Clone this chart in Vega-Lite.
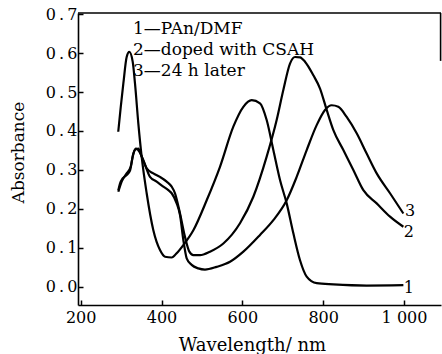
{
  "$schema": "https://vega.github.io/schema/vega-lite/v6.json",
  "width": 363,
  "height": 292,
  "autosize": "none",
  "padding": {"left": 78, "top": 13, "right": 1, "bottom": 49},
  "background": "white",
  "config": {
    "view": {"stroke": null},
    "font": "DejaVu Serif",
    "axis": {"grid": false, "domainColor": "black", "domainWidth": 1.6, "tickColor": "black", "tickWidth": 1.5, "labelColor": "black", "titleColor": "black", "labelFont": "DejaVu Serif", "titleFont": "DejaVu Serif", "titleFontWeight": "normal"}
  },
  "encoding": {
    "x": {"field": "wl", "type": "quantitative", "scale": {"domain": [193.4, 1091.5], "nice": false, "zero": false},
      "axis": {"title": "Wavelength/ nm", "values": [200, 400, 600, 800, 1000], "tickSize": -5, "labelPadding": 9, "labelFontSize": 16, "labelExpr": "datum.value == 1000 ? '1 000' : format(datum.value, 'd')", "titleFontSize": 18, "titleX": 174, "titleY": 45, "titleBaseline": "alphabetic", "titleAlign": "center"}},
    "y": {"field": "abs", "type": "quantitative", "scale": {"domain": [-0.047, 0.703], "nice": false, "zero": false},
      "axis": {"title": "Absorbance", "values": [0, 0.1, 0.2, 0.3, 0.4, 0.5, 0.6, 0.7], "tickSize": -5, "labelPadding": 6, "labelFontSize": 16, "labelExpr": "replace(format(datum.value, '.1f'), '.', '\u2009.\u2009')", "titleFontSize": 17, "titleX": -60, "titleY": 139, "titleAngle": -90, "titleAlign": "center", "titleBaseline": "middle"}}
  },
  "layer": [
    {
      "data": {"values": [
        {"series": "1", "wl": 293, "abs": 0.398},
        {"series": "1", "wl": 299, "abs": 0.46},
        {"series": "1", "wl": 305.6, "abs": 0.522},
        {"series": "1", "wl": 313.8, "abs": 0.59},
        {"series": "1", "wl": 320.4, "abs": 0.603},
        {"series": "1", "wl": 328.7, "abs": 0.578},
        {"series": "1", "wl": 334.4, "abs": 0.522},
        {"series": "1", "wl": 342.7, "abs": 0.419},
        {"series": "1", "wl": 350.9, "abs": 0.334},
        {"series": "1", "wl": 363.3, "abs": 0.24},
        {"series": "1", "wl": 379.8, "abs": 0.145},
        {"series": "1", "wl": 396.3, "abs": 0.094},
        {"series": "1", "wl": 408.7, "abs": 0.077},
        {"series": "1", "wl": 425.2, "abs": 0.075},
        {"series": "1", "wl": 437.5, "abs": 0.086},
        {"series": "1", "wl": 454, "abs": 0.107},
        {"series": "1", "wl": 478.8, "abs": 0.145},
        {"series": "1", "wl": 511.8, "abs": 0.222},
        {"series": "1", "wl": 544.7, "abs": 0.308},
        {"series": "1", "wl": 577.7, "abs": 0.411},
        {"series": "1", "wl": 602.5, "abs": 0.462},
        {"series": "1", "wl": 623.1, "abs": 0.479},
        {"series": "1", "wl": 643.7, "abs": 0.471},
        {"series": "1", "wl": 660.2, "abs": 0.428},
        {"series": "1", "wl": 676.7, "abs": 0.351},
        {"series": "1", "wl": 693.2, "abs": 0.274},
        {"series": "1", "wl": 709.7, "abs": 0.214},
        {"series": "1", "wl": 726.2, "abs": 0.137},
        {"series": "1", "wl": 742.7, "abs": 0.068},
        {"series": "1", "wl": 759.2, "abs": 0.026},
        {"series": "1", "wl": 783.9, "abs": 0.009},
        {"series": "1", "wl": 825.2, "abs": 0.006},
        {"series": "1", "wl": 907.6, "abs": 0.003},
        {"series": "1", "wl": 998.4, "abs": 0.004},
        {"series": "2", "wl": 293.2, "abs": 0.248},
        {"series": "2", "wl": 297.3, "abs": 0.265},
        {"series": "2", "wl": 303.9, "abs": 0.278},
        {"series": "2", "wl": 313.8, "abs": 0.287},
        {"series": "2", "wl": 322.1, "abs": 0.298},
        {"series": "2", "wl": 328.7, "abs": 0.334},
        {"series": "2", "wl": 334.4, "abs": 0.351},
        {"series": "2", "wl": 342.7, "abs": 0.355},
        {"series": "2", "wl": 350.9, "abs": 0.334},
        {"series": "2", "wl": 363.3, "abs": 0.304},
        {"series": "2", "wl": 379.8, "abs": 0.291},
        {"series": "2", "wl": 396.3, "abs": 0.282},
        {"series": "2", "wl": 412.8, "abs": 0.27},
        {"series": "2", "wl": 425.2, "abs": 0.257},
        {"series": "2", "wl": 433.4, "abs": 0.24},
        {"series": "2", "wl": 445.8, "abs": 0.188},
        {"series": "2", "wl": 458.1, "abs": 0.128},
        {"series": "2", "wl": 468.9, "abs": 0.09},
        {"series": "2", "wl": 478.8, "abs": 0.081},
        {"series": "2", "wl": 495.3, "abs": 0.081},
        {"series": "2", "wl": 520, "abs": 0.09},
        {"series": "2", "wl": 553, "abs": 0.111},
        {"series": "2", "wl": 594.2, "abs": 0.163},
        {"series": "2", "wl": 627.2, "abs": 0.231},
        {"series": "2", "wl": 660.2, "abs": 0.334},
        {"series": "2", "wl": 684.9, "abs": 0.428},
        {"series": "2", "wl": 701.4, "abs": 0.505},
        {"series": "2", "wl": 717.9, "abs": 0.573},
        {"series": "2", "wl": 730.3, "abs": 0.59},
        {"series": "2", "wl": 742.7, "abs": 0.589},
        {"series": "2", "wl": 755, "abs": 0.578},
        {"series": "2", "wl": 775.7, "abs": 0.543},
        {"series": "2", "wl": 792.2, "abs": 0.509},
        {"series": "2", "wl": 808.7, "abs": 0.454},
        {"series": "2", "wl": 825.2, "abs": 0.402},
        {"series": "2", "wl": 849.9, "abs": 0.351},
        {"series": "2", "wl": 874.6, "abs": 0.3},
        {"series": "2", "wl": 899.4, "abs": 0.248},
        {"series": "2", "wl": 932.4, "abs": 0.214},
        {"series": "2", "wl": 965.4, "abs": 0.18},
        {"series": "2", "wl": 998.4, "abs": 0.154},
        {"series": "3", "wl": 293.2, "abs": 0.244},
        {"series": "3", "wl": 301.4, "abs": 0.27},
        {"series": "3", "wl": 313.8, "abs": 0.291},
        {"series": "3", "wl": 323.7, "abs": 0.308},
        {"series": "3", "wl": 330.3, "abs": 0.342},
        {"series": "3", "wl": 336.9, "abs": 0.355},
        {"series": "3", "wl": 345.2, "abs": 0.347},
        {"series": "3", "wl": 355.1, "abs": 0.325},
        {"series": "3", "wl": 371.5, "abs": 0.282},
        {"series": "3", "wl": 388, "abs": 0.27},
        {"series": "3", "wl": 404.5, "abs": 0.257},
        {"series": "3", "wl": 416.9, "abs": 0.248},
        {"series": "3", "wl": 425.2, "abs": 0.24},
        {"series": "3", "wl": 437.5, "abs": 0.214},
        {"series": "3", "wl": 445.8, "abs": 0.184},
        {"series": "3", "wl": 454, "abs": 0.12},
        {"series": "3", "wl": 462.3, "abs": 0.073},
        {"series": "3", "wl": 474.6, "abs": 0.056},
        {"series": "3", "wl": 491.1, "abs": 0.047},
        {"series": "3", "wl": 507.6, "abs": 0.044},
        {"series": "3", "wl": 536.5, "abs": 0.051},
        {"series": "3", "wl": 569.5, "abs": 0.064},
        {"series": "3", "wl": 602.5, "abs": 0.09},
        {"series": "3", "wl": 643.7, "abs": 0.133},
        {"series": "3", "wl": 676.7, "abs": 0.171},
        {"series": "3", "wl": 709.7, "abs": 0.222},
        {"series": "3", "wl": 734.4, "abs": 0.282},
        {"series": "3", "wl": 759.2, "abs": 0.351},
        {"series": "3", "wl": 783.9, "abs": 0.415},
        {"series": "3", "wl": 804.5, "abs": 0.454},
        {"series": "3", "wl": 821, "abs": 0.466},
        {"series": "3", "wl": 837.5, "abs": 0.462},
        {"series": "3", "wl": 858.1, "abs": 0.436},
        {"series": "3", "wl": 882.9, "abs": 0.394},
        {"series": "3", "wl": 907.6, "abs": 0.342},
        {"series": "3", "wl": 932.4, "abs": 0.291},
        {"series": "3", "wl": 965.4, "abs": 0.24},
        {"series": "3", "wl": 998.4, "abs": 0.188}
      ]},
      "mark": {"type": "line", "color": "black", "strokeWidth": 2.2, "interpolate": "monotone"},
      "encoding": {"detail": {"field": "series", "type": "nominal"}}
    },
    {
      "data": {"values": [
        {"wl": 329.5, "abs": 0.648, "label": "1—PAn/DMF"},
        {"wl": 329.5, "abs": 0.595, "label": "2—doped with CSAH"},
        {"wl": 329.5, "abs": 0.542, "label": "3—24 h later"}
      ]},
      "mark": {"type": "text", "align": "left", "baseline": "alphabetic", "fontSize": 17, "font": "DejaVu Serif", "color": "black"},
      "encoding": {"text": {"field": "label", "type": "nominal"}}
    },
    {
      "data": {"values": [
        {"wl": 1015, "abs": 0.195, "label": "3"},
        {"wl": 1012, "abs": 0.141, "label": "2"},
        {"wl": 1012, "abs": -0.003, "label": "1"}
      ]},
      "mark": {"type": "text", "align": "center", "baseline": "middle", "fontSize": 16, "font": "DejaVu Serif", "color": "black"},
      "encoding": {"text": {"field": "label", "type": "nominal"}}
    },
    {
      "data": {"values": [{"wl": 193.4, "wl2": 1091.5, "abs": 0.703}]},
      "mark": {"type": "rule", "color": "black", "strokeWidth": 1.6},
      "encoding": {"x2": {"field": "wl2"}}
    },
    {
      "data": {"values": [{"wl": 1090.5, "abs": 0.703, "abs2": 0.58}]},
      "mark": {"type": "rule", "color": "black", "strokeWidth": 1.6},
      "encoding": {"y2": {"field": "abs2"}}
    }
  ]
}
